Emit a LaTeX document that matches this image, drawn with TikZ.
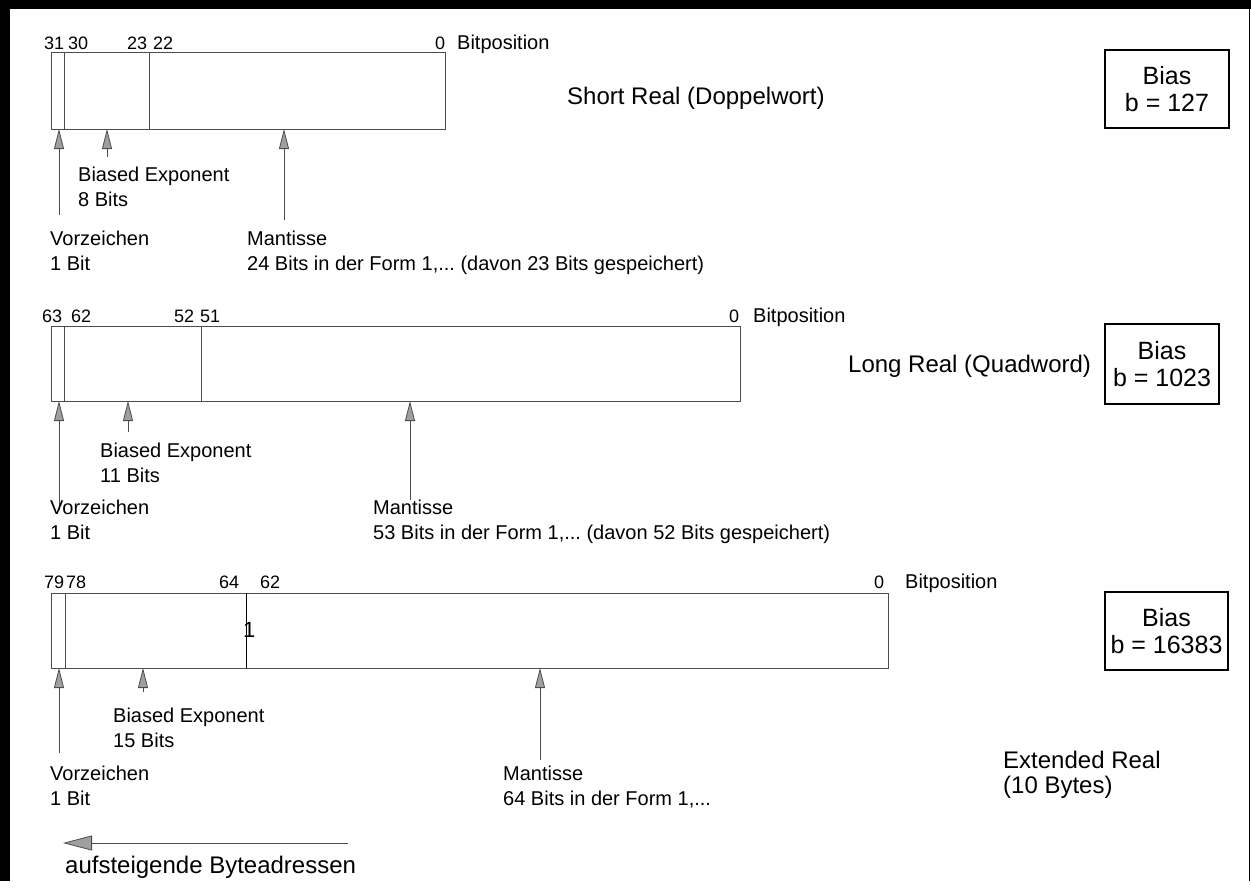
\documentclass[tikz,border=0pt]{standalone}
\usepackage{fontspec}
\setmainfont{Liberation Sans}
\usetikzlibrary{arrows.meta}
\frenchspacing
\tikzset{
  % two-line labels are placed by the baseline of their last line
  lbl/.style={inner sep=0pt, anchor=base west, font=\fontsize{20}{24.5}\selectfont, align=left},
  num/.style={inner sep=0pt, anchor=base west, font=\fontsize{18}{21}\selectfont},
  big/.style={inner sep=0pt, anchor=base west, font=\fontsize{24}{25}\selectfont, align=left},
  field/.style={draw=black!70, line width=1pt},
  pointer/.style={draw=black!70, line width=1pt, -{Triangle[length=20pt,width=10pt,fill=gray!75,color=black!70,line width=0.8pt]}},
  biasbox/.style={draw=black, line width=1.5pt, inner sep=0pt, align=center,
    font=\fontsize{25}{27}\selectfont},
}
\begin{document}
\begin{tikzpicture}[x=1pt,y=-1pt]
\useasboundingbox (0,0) rectangle (1251,891);
% frame
\fill[black] (0,0) rectangle (1251,9);
\fill[black] (0,0) rectangle (10,881);
\draw[line width=1.5pt] (1249.5,0) -- (1249.5,881);

% ---------- Short Real ----------
\draw[field] (51,53) rectangle (445,129);
\draw[field] (64,53) -- (64,129);
\draw[field] (149,53) -- (149,129);
\node[num] (s31) at (44,50) {31};
\node[num] (s30) at (68,50) {30};
\node[num] (s23) at (127,50) {23};
\node[num] (s22) at (153,50) {22};
\node[num] (s0) at (435,50) {0};
\node[lbl] (sbp) at (457,50) {Bitposition};
\coordinate (ssgnTip) at (59,129);   \coordinate (ssgnTail) at (59,215);
\coordinate (sexpTip) at (107,129);  \coordinate (sexpTail) at (107,157);
\coordinate (smanTip) at (284,129);  \coordinate (smanTail) at (284,220);
\draw[pointer] (ssgnTail) -- (ssgnTip);
\draw[pointer] (sexpTail) -- (sexpTip);
\draw[pointer] (smanTail) -- (smanTip);
\node[lbl] (sexp) at (78,206) {Biased Exponent\\8 Bits};
\node[lbl] (ssgn) at (50,270) {Vorzeichen\\1 Bit};
\node[lbl] (sman) at (247,270) {Mantisse\\24 Bits in der Form 1,... (davon 23 Bits gespeichert)};
\node[big] (sname) at (567,105) {Short Real (Doppelwort)};
\node[biasbox, minimum width=124pt, minimum height=78pt] (sbias) at (1167,89) {Bias\\b = 127};

% ---------- Long Real ----------
\draw[field] (51,326) rectangle (740,401);
\draw[field] (64,326) -- (64,401);
\draw[field] (201,326) -- (201,401);
\node[num] (l63) at (42,322) {63};
\node[num] (l62) at (71,322) {62};
\node[num] (l52) at (174,322) {52};
\node[num] (l51) at (200,322) {51};
\node[num] (l0) at (729,322) {0};
\node[lbl] (lbp) at (753,322) {Bitposition};
\coordinate (lsgnTip) at (59,401);   \coordinate (lsgnTail) at (59,510);
\coordinate (lexpTip) at (128,401);  \coordinate (lexpTail) at (128,432);
\coordinate (lmanTip) at (410,401);  \coordinate (lmanTail) at (410,500);
\draw[pointer] (lsgnTail) -- (lsgnTip);
\draw[pointer] (lexpTail) -- (lexpTip);
\draw[pointer] (lmanTail) -- (lmanTip);
\node[lbl] (lexp) at (100,482) {Biased Exponent\\11 Bits};
\node[lbl] (lsgn) at (50,539) {Vorzeichen\\1 Bit};
\node[lbl] (lman) at (373,539) {Mantisse\\53 Bits in der Form 1,... (davon 52 Bits gespeichert)};
\node[big] (lname) at (848,372) {Long Real (Quadword)};
\node[biasbox, minimum width=114pt, minimum height=80pt] (lbias) at (1162,364) {Bias\\b = 1023};

% ---------- Extended Real ----------
\draw[field] (51,593) rectangle (888,668);
\draw[field] (65,593) -- (65,668);
\draw[black, line width=1pt] (246,593) -- (246,668);
\node[inner sep=0pt, anchor=west, font=\fontsize{22}{24}\selectfont] (eone) at (243,630) {1};
\node[num] (e79) at (44,588) {79};
\node[num] (e78) at (66,588) {78};
\node[num] (e64) at (219,588) {64};
\node[num] (e62) at (260,588) {62};
\node[num] (e0) at (874,588) {0};
\node[lbl] (ebp) at (905,588) {Bitposition};
\coordinate (esgnTip) at (59,668);   \coordinate (esgnTail) at (59,753);
\coordinate (eexpTip) at (143,668);  \coordinate (eexpTail) at (143,692);
\coordinate (emanTip) at (540,668);  \coordinate (emanTail) at (540,760);
\draw[pointer] (esgnTail) -- (esgnTip);
\draw[pointer] (eexpTail) -- (eexpTip);
\draw[pointer] (emanTail) -- (emanTip);
\node[lbl] (eexp) at (113,747) {Biased Exponent\\15 Bits};
\node[lbl] (esgn) at (50,805) {Vorzeichen\\1 Bit};
\node[lbl] (eman) at (503,805) {Mantisse\\64 Bits in der Form 1,...};
\node[big] (ename) at (1003,793) {Extended Real\\(10 Bytes)};
\node[biasbox, minimum width=123pt, minimum height=78pt] (ebias) at (1166.5,631) {Bias\\b = 16383};

% ---------- byte order ----------
\coordinate (addrTail) at (348,843);
\coordinate (addrTip) at (63,843);
\draw[draw=black!70, line width=1pt, -{Triangle[length=29pt,width=15pt,fill=gray!75,color=black!70,line width=0.8pt]}] (addrTail) -- (addrTip);
\node[big] (addr) at (65,873) {aufsteigende Byteadressen};
\end{tikzpicture}
\end{document}
